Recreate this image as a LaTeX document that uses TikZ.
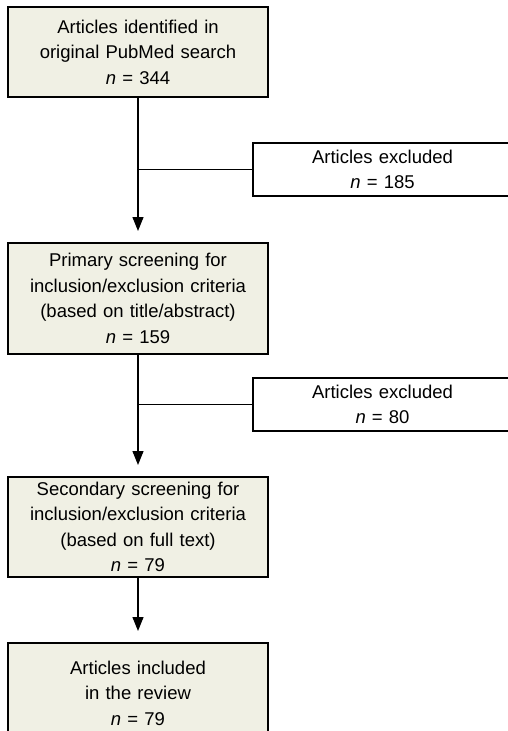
\documentclass[tikz,border=0pt]{standalone}
\usepackage{fontspec}
\setmainfont{Liberation Sans}
\usetikzlibrary{positioning, arrows.meta}
\definecolor{boxfill}{RGB}{240,240,228}

\begin{document}
\begin{tikzpicture}[x=1pt, y=-1pt, node distance=1cm,
 line width=1.2pt,
 stage node/.style={rectangle, draw, fill=boxfill, minimum width=260pt,
   text width=250pt, align=center, inner sep=0pt, outer sep=0pt,
   font=\fontsize{18.5}{25.5}\selectfont},
 side node/.style={rectangle, draw, fill=white, minimum width=264pt,
   minimum height=53pt, text width=250pt, align=center, inner sep=0pt,
   outer sep=0pt, font=\fontsize{18.5}{25.5}\selectfont},
 flow/.style={-{Triangle[length=14pt,width=11pt]}, shorten >=12pt}]
  \useasboundingbox (0,0) rectangle (508,731);
  \clip (0,0) rectangle (508,731);

  % main stages
  \node[stage node, minimum height=90pt] (found) at (138,52)
    {Articles identified in\\original PubMed search\\\textit{n}~=~344};
  \node[stage node, minimum height=111pt] (screen1) [below=146pt of found]
    {Primary screening for\\inclusion/exclusion criteria\\(based on title/abstract)\\\textit{n}~=~159};
  \node[stage node, minimum height=100pt] (screen2) [below=123pt of screen1]
    {Secondary screening for\\inclusion/exclusion criteria\\(based on full text)\\\textit{n}~=~79};
  \node[stage node, minimum height=100pt] (incl) [below=66pt of screen2]
    {Articles included\\in the review\\\textit{n}~=~79};

  % exclusions
  \node[side node] (excl1) at (385,169.5) {\hspace*{-5pt}Articles excluded\\\hspace*{-5pt}\textit{n}~=~185};
  \node[side node] (excl2) at (385,404.5) {\hspace*{-5pt}Articles excluded\\\hspace*{-5pt}\textit{n}~=~80};

  \foreach \s/\t in {found/screen1, screen1/screen2, screen2/incl} {
   \draw[flow] (\s) -- (\t);}
  \draw (excl1.west) -- (excl1.west -| found.south);
  \draw (excl2.west) -- (excl2.west -| screen1.south);
\end{tikzpicture}
\end{document}
